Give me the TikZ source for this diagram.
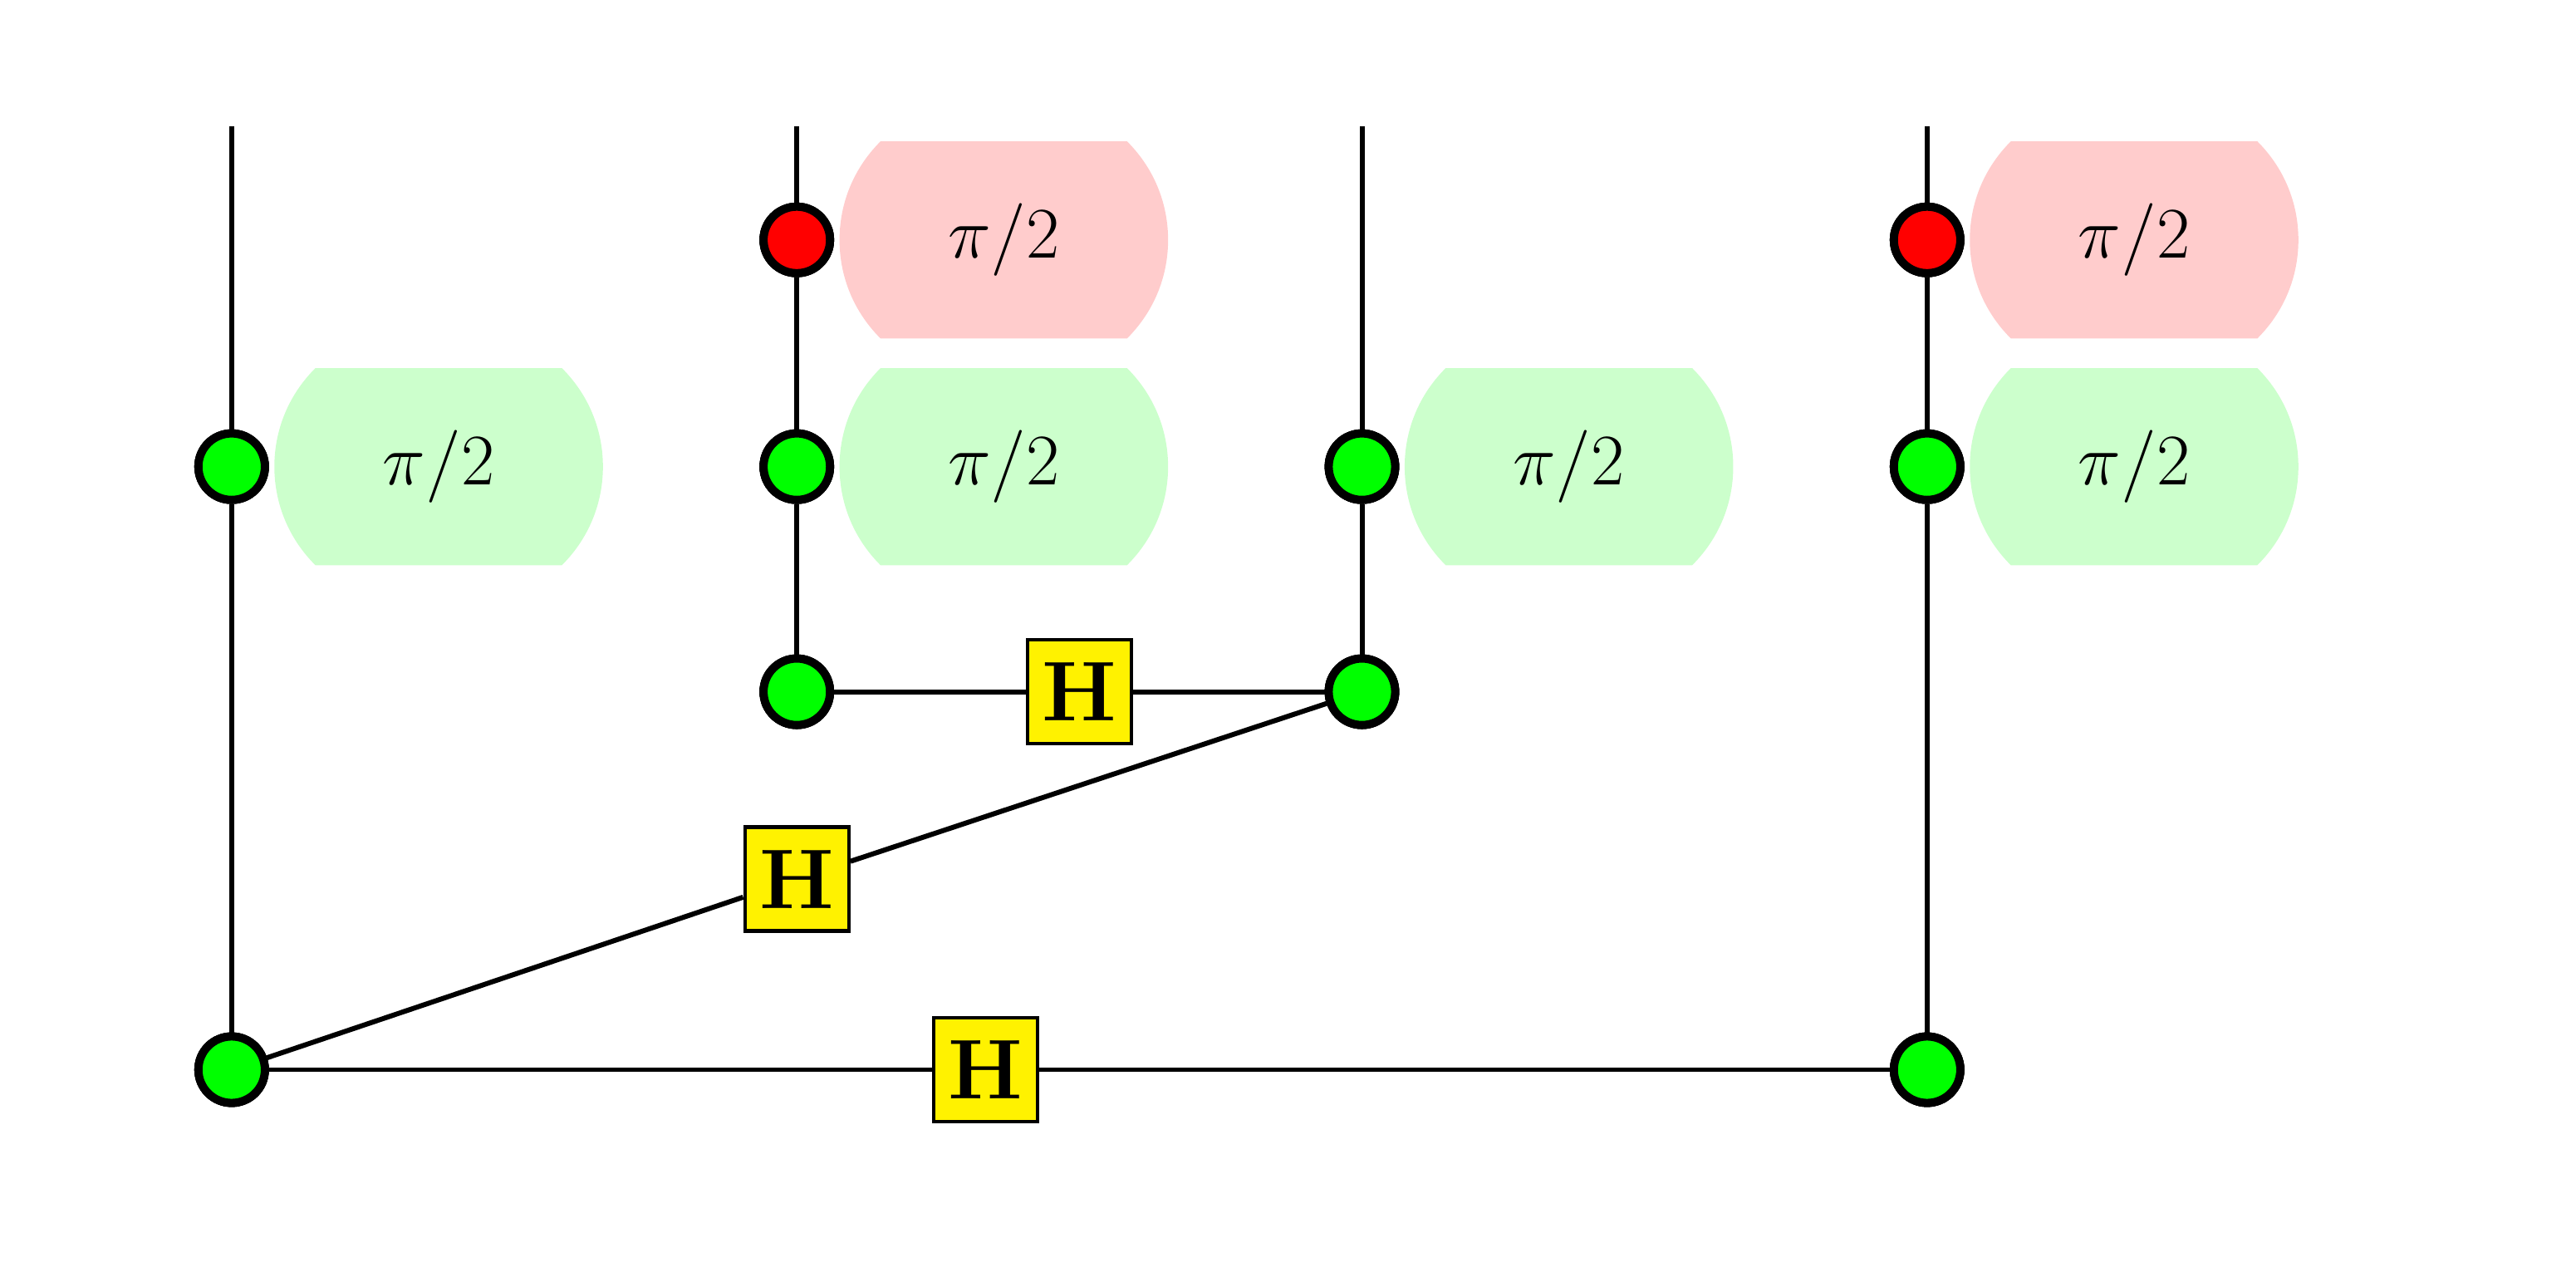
\documentclass[tikz,border=0pt]{standalone}
\begin{document}
\begin{tikzpicture}[x=0.01978cm,y=-0.01978cm,
  wire/.style={line width=1.7pt},
  gsp/.style={circle,draw,line width=2.8pt,fill={rgb,255:red,0;green,255;blue,0},minimum size=0.8cm,inner sep=0pt},
  rsp/.style={gsp,fill={rgb,255:red,255;green,0;blue,0}},
  hbox/.style={draw,line width=1.2pt,fill=yellow,minimum size=1.25cm,inner sep=0pt,font=\fontsize{29}{29}\selectfont\bfseries},
  lab/.style={font=\fontsize{48}{48}\selectfont}]
\useasboundingbox (0,0) rectangle (1568,774);
\definecolor{lg}{RGB}{204,255,204}
\definecolor{lr}{RGB}{255,204,204}
\newcommand{\pill}[4]{% x, y, color, name
  \fill[#3] (#1+25,#2-60) -- (#1+175,#2-60) .. controls (#1+193,#2-42) and (#1+200,#2-20) .. (#1+200,#2) .. controls (#1+200,#2+20) and (#1+193,#2+42) .. (#1+175,#2+60) -- (#1+25,#2+60) .. controls (#1+7,#2+42) and (#1,#2+20) .. (#1,#2) .. controls (#1,#2-20) and (#1+7,#2-42) .. (#1+25,#2-60) -- cycle;
  \node[lab] (#4) at (#1+100,#2) {$\pi/2$};}
\pill{167}{284}{lg}{l1}
\pill{511}{146}{lr}{l2}
\pill{511}{284}{lg}{l3}
\pill{855}{284}{lg}{l4}
\pill{1199}{146}{lr}{l5}
\pill{1199}{284}{lg}{l6}
\coordinate (t1) at (141,77);
\coordinate (t2) at (485,77);
\coordinate (t3) at (829,77);
\coordinate (t4) at (1173,77);
\node[gsp] (a1) at (141,284) {};
\node[gsp] (b) at (141,651) {};
\node[rsp] (r2) at (485,146) {};
\node[gsp] (g2) at (485,284) {};
\node[gsp] (m2) at (485,421) {};
\node[gsp] (g3) at (829,284) {};
\node[gsp] (m3) at (829,421) {};
\node[rsp] (r4) at (1173,146) {};
\node[gsp] (g4) at (1173,284) {};
\node[gsp] (b4) at (1173,651) {};
\node[hbox] (h1) at (657,421) {H};
\node[hbox] (h2) at (485,535) {H};
\node[hbox] (h3) at (600,651) {H};
\begin{scope}[on background layer/.style={}]
\end{scope}
\draw[wire] (t1) -- (a1) -- (b);
\draw[wire] (t2) -- (r2) -- (g2) -- (m2);
\draw[wire] (t3) -- (g3) -- (m3);
\draw[wire] (t4) -- (r4) -- (g4) -- (b4);
\draw[wire] (m2) -- (h1) -- (m3);
\draw[wire] (b) -- (h2) -- (m3);
\draw[wire] (b) -- (h3) -- (b4);
\foreach \n in {a1,b,r2,g2,m2,g3,m3,r4,g4,b4}{\node[gsp,fill=none] at (\n) {};}
\node[gsp] at (a1) {}; \node[gsp] at (b) {}; \node[rsp] at (r2) {}; \node[gsp] at (g2) {};
\node[gsp] at (m2) {}; \node[gsp] at (g3) {}; \node[gsp] at (m3) {}; \node[rsp] at (r4) {};
\node[gsp] at (g4) {}; \node[gsp] at (b4) {};
\node[hbox] at (h1) {H}; \node[hbox] at (h2) {H}; \node[hbox] at (h3) {H};
\end{tikzpicture}
\end{document}
